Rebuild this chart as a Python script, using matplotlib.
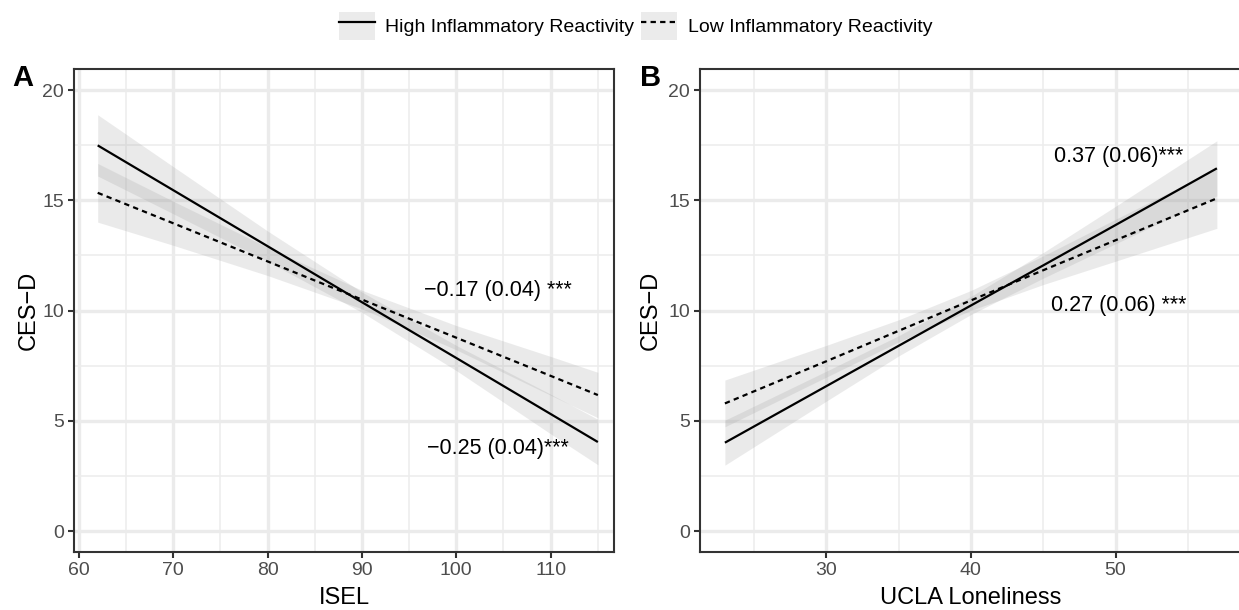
import numpy as np
import matplotlib
matplotlib.use("Agg")
import matplotlib.pyplot as plt
from matplotlib.patches import Patch
from matplotlib.lines import Line2D
from matplotlib.legend_handler import HandlerTuple
from matplotlib.ticker import MultipleLocator

plt.rcParams['font.family'] = ['Liberation Sans', 'DejaVu Sans']

# ---- panel A: ISEL ----
isel_x = [62, 70, 80, 90, 100, 110, 115]
isel_high = [17.49, 15.46, 12.92, 10.38, 7.85, 5.31, 4.04]
isel_high_lo = [16.10, 14.39, 12.23, 9.92, 7.28, 4.41, 3.01]
isel_high_hi = [18.88, 16.53, 13.61, 10.84, 8.42, 6.21, 5.07]
isel_low = [15.34, 13.96, 12.23, 10.50, 8.77, 7.04, 6.17]
isel_low_lo = [14.01, 12.96, 11.59, 10.08, 8.22, 6.16, 5.14]
isel_low_hi = [16.67, 14.96, 12.87, 10.92, 9.32, 7.92, 7.20]

# ---- panel B: UCLA loneliness ----
ucla_x = [23, 30, 35, 40, 45, 50, 57]
ucla_high = [4.01, 6.57, 8.40, 10.23, 12.05, 13.88, 16.45]
ucla_high_lo = [2.99, 5.89, 7.94, 9.82, 11.47, 13.03, 15.20]
ucla_high_hi = [5.03, 7.25, 8.86, 10.64, 12.63, 14.73, 17.70]
ucla_low = [5.79, 7.70, 9.08, 10.46, 11.83, 13.19, 15.09]
ucla_low_lo = [4.73, 6.98, 8.58, 10.01, 11.18, 12.24, 13.73]
ucla_low_hi = [6.85, 8.42, 9.58, 10.91, 12.48, 14.14, 16.45]

legend_labels = ['High Inflammatory Reactivity', 'Low Inflammatory Reactivity']
isel_notes = [('\u22120.17 (0.04) ***', 104.4, 10.92), ('\u22120.25 (0.04)***', 104.4, 3.75)]
ucla_notes = [('0.37 (0.06)***', 50.2, 16.98), ('0.27 (0.06) ***', 50.2, 10.22)]

DASH = (0, (2.4, 1.9))
W, H = 1239, 610

fig = plt.figure(figsize=(W / 100, H / 100), dpi=100)
bottom = 1 - 552.3 / H
height = (552.3 - 69.3) / H
axA = fig.add_axes([74 / W, bottom, 540 / W, height])
axB = fig.add_axes([700.3 / W, bottom, 541.2 / W, height])


def draw_panel(ax, x, hi, hi_lo, hi_hi, lo, lo_lo, lo_hi, xlim, xmajor, xlabel, notes):
    ax.fill_between(x, hi_lo, hi_hi, color='#999999', alpha=0.2, lw=0)
    ax.fill_between(x, lo_lo, lo_hi, color='#999999', alpha=0.2, lw=0)
    ax.plot(x, hi, color='black', lw=1.6, solid_capstyle='butt')
    ax.plot(x, lo, color='black', lw=1.6, ls=DASH)
    for txt, tx, ty in notes:
        ax.text(tx, ty, txt, ha='center', va='center', fontsize=15.5)

    ax.set_xlim(*xlim)
    ax.set_ylim(-0.96, 20.94)
    ax.xaxis.set_major_locator(MultipleLocator(xmajor))
    ax.xaxis.set_minor_locator(MultipleLocator(xmajor / 2))
    ax.yaxis.set_major_locator(MultipleLocator(5))
    ax.yaxis.set_minor_locator(MultipleLocator(2.5))
    ax.set_axisbelow(True)
    ax.grid(which='major', color='#ebebeb', lw=2.4)
    ax.grid(which='minor', color='#ededed', lw=1.2)
    ax.tick_params(which='major', length=4.3, width=1.5, color='#333333',
                   labelsize=14, labelcolor='#4d4d4d', pad=3)
    ax.tick_params(which='minor', length=0)
    for sp in ax.spines.values():
        sp.set_color('#333333')
        sp.set_linewidth(1.5)
    ax.set_xlabel(xlabel, fontsize=17, va='center')
    ax.set_ylabel('CES\u2212D', fontsize=17, va='center')
    ax.xaxis.set_label_coords(0.5, (552.3 - 598) / 483)


draw_panel(axA, isel_x, isel_high, isel_high_lo, isel_high_hi,
           isel_low, isel_low_lo, isel_low_hi, (59.49, 116.71), 10, 'ISEL', isel_notes)
draw_panel(axB, ucla_x, ucla_high, ucla_high_lo, ucla_high_hi,
           ucla_low, ucla_low_lo, ucla_low_hi, (21.3, 58.7), 10, 'UCLA Loneliness', ucla_notes)
axA.yaxis.set_label_coords((29 - 74) / 540, 0.5)
axB.yaxis.set_label_coords((651 - 700.3) / 541.2, 0.5)

fig.text(23 / W, 1 - 78 / H, 'A', fontsize=21, fontweight='bold', ha='center', va='center')
fig.text(651 / W, 1 - 78 / H, 'B', fontsize=21, fontweight='bold', ha='center', va='center')

handles = [
    (Patch(facecolor='#ebebeb', edgecolor='none'), Line2D([], [], color='black', lw=1.6)),
    (Patch(facecolor='#ebebeb', edgecolor='none'), Line2D([], [], color='black', lw=1.6, ls=DASH)),
]
fig.legend(handles, legend_labels, handler_map={tuple: HandlerTuple(ndivide=1, pad=0)},
           loc='center', bbox_to_anchor=(0.513, 1 - 26 / H), ncol=2, frameon=False,
           fontsize=14, handlelength=1.85, handleheight=1.85, handletextpad=0.55,
           columnspacing=0.35, borderaxespad=0)

fig.savefig('out.png', dpi=100)
